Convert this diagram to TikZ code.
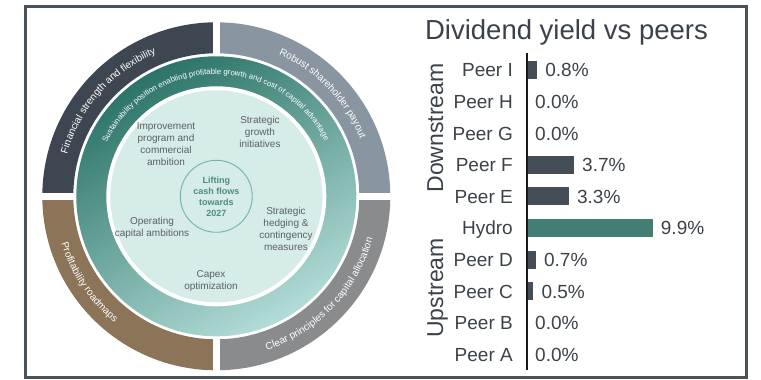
\documentclass[tikz,border=0pt]{standalone}
\usepackage{fontspec}
\setmainfont{Liberation Sans}
\usetikzlibrary{positioning, calc, decorations.text}

\definecolor{framegrey}{HTML}{4A525B}
\definecolor{ringdark}{HTML}{3E4751}
\definecolor{ringblue}{HTML}{8995A0}
\definecolor{ringgrey}{HTML}{8A8B8D}
\definecolor{ringbrown}{HTML}{8B7458}
\definecolor{tealdark}{HTML}{2C7467}
\definecolor{tealmid}{HTML}{3F8D80}
\definecolor{teallight}{HTML}{B2DCD8}
\definecolor{disk}{HTML}{D6ECE9}
\definecolor{hubline}{HTML}{72B3A9}
\definecolor{hubtext}{HTML}{4C8C82}
\definecolor{bodytext}{HTML}{5A6067}
\definecolor{charttext}{HTML}{3B4249}
\definecolor{barcol}{HTML}{454D56}
\definecolor{hydrocol}{HTML}{437E75}

\newcommand{\ringfont}{\fontsize{10}{12}\selectfont}
\newcommand{\bandfont}{\fontsize{7.8}{9}\selectfont}

\begin{document}
\begin{tikzpicture}[x=1pt, y=1pt,
    every node/.style={inner sep=0pt},
    pillartext/.style={align=center, font=\fontsize{10}{12}\selectfont, text=bodytext},
    hubnode/.style={circle, draw=hubline, line width=0.9pt, fill=disk, minimum size=72pt,
        align=center, font=\bfseries\fontsize{9}{11}\selectfont, text=hubtext},
    ringtext/.style={decorate, decoration={text along path, text color=white, text align=center, text={#1}}},
    rowlabel/.style={anchor=base east, font=\fontsize{19}{22}\selectfont, text=charttext},
    rowvalue/.style={anchor=base west, font=\fontsize{19}{22}\selectfont, text=charttext},
    grouplabel/.style={anchor=base, rotate=90, font=\fontsize{23}{26}\selectfont, text=charttext},
    charttitle/.style={anchor=base, font=\fontsize{27.5}{30}\selectfont, text=charttext}
]
\useasboundingbox (0,0) rectangle (761,380);
\coordinate (c) at (216.3,183.7);

% outer ring, four quarters
\foreach \a/\col in {90/ringdark, 0/ringblue, 270/ringgrey, 180/ringbrown}
    \fill[\col] ($(c)+(\a:174)$) arc[start angle=\a, delta angle=90, radius=174]
        -- ($(c)+(\a+90:143)$) arc[start angle=\a+90, delta angle=-90, radius=143] -- cycle;
\draw[white, line width=6.5pt] ($(c)+(-178,0)$) -- ($(c)+(178,0)$);
\draw[white, line width=6.5pt] ($(c)+(0,-178)$) -- ($(c)+(0,178)$);

% teal band and inner disk
\shade[top color=tealdark, middle color=tealmid, bottom color=teallight, shading angle=30] (c) circle[radius=140];
\fill[white] (c) circle[radius=110];
\fill[disk] (c) circle[radius=106];

% texts along the rings
\path[ringtext={|\ringfont|Financial strength and flexibility}]
    ($(c)+(175:155)$) arc[start angle=175, end angle=102, radius=155];
\path[ringtext={|\ringfont|Robust shareholder payout}]
    ($(c)+(80:155)$) arc[start angle=80, end angle=8, radius=155];
\path[ringtext={|\ringfont|Clear principles for capital allocation}]
    ($(c)+(-85:162)$) arc[start angle=-85, end angle=-2, radius=162];
\path[ringtext={|\ringfont|Profitability roadmaps}]
    ($(c)+(185:162)$) arc[start angle=185, end angle=243, radius=162];
\path[ringtext={|\bandfont|Sustainability position enabling profitable growth and cost of capital advantage}]
    ($(c)+(172:122)$) arc[start angle=172, end angle=9, radius=122];

% inner labels
\node[hubnode] (hub) at (c) {Lifting\\cash flows\\towards\\2027};
\node[pillartext] (improve) at (166,236) {Improvement\\program and\\commercial\\ambition};
\node[pillartext] (growth) at (260,248) {Strategic\\growth\\initiatives};
\node[pillartext] (hedge) at (286,151.5) {Strategic\\hedging \&\\contingency\\measures};
\node[pillartext] (operate) at (152,152.5) {Operating\\capital ambitions};
\node[pillartext] (capex) at (211,99) {Capex\\optimization};

% dividend chart
\node[charttitle] (title) at (566.5,340) {Dividend yield vs peers};
\node[grouplabel] (down) at (443,252) {Downstream};
\node[grouplabel] (up) at (443,92) {Upstream};
\foreach \name/\val/\col [count=\i from 0] in {Peer I/0.8/barcol, Peer H/0.0/barcol,
    Peer G/0.0/barcol, Peer F/3.7/barcol, Peer E/3.3/barcol, Hydro/9.9/hydrocol,
    Peer D/0.7/barcol, Peer C/0.5/barcol, Peer B/0.0/barcol, Peer A/0.0/barcol} {
    \node[rowlabel] (row\i) at (513, 310-31.6*\i-7) {\name};
    \fill[\col] (527, 310-31.6*\i-9) rectangle ++(12.7*\val, 18);
    \node[rowvalue] (val\i) at (535+12.7*\val, 310-31.6*\i-7) {\val\%};
}
\coordinate (axtop) at (527,327);
\coordinate (axbot) at (527,10);
\draw[black!90, line width=1.2pt] (axtop) -- (axbot);

% frame
\draw[framegrey, line width=3pt] (25,2) rectangle (746.5,373.5);
\end{tikzpicture}
\end{document}
